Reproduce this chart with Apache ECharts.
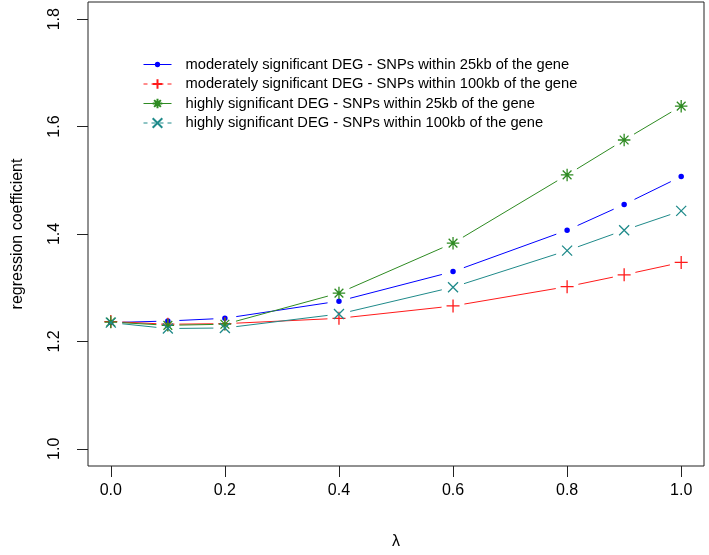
<!DOCTYPE html>
<html>
<head>
<meta charset="utf-8">
<script src="https://cdn.jsdelivr.net/npm/echarts@6/dist/echarts.min.js"></script>
<style>
html,body{margin:0;padding:0;background:#fff;}
#chart{width:709px;height:555px;}
</style>
</head>
<body>
<div id="chart"></div>
<script>
var lambdas = [0, 0.1, 0.2, 0.4, 0.6, 0.8, 0.9, 1.0];
var modSig25kb  = [1.235, 1.238, 1.243, 1.275, 1.330, 1.407, 1.455, 1.507];
var modSig100kb = [1.237, 1.232, 1.233, 1.243, 1.266, 1.302, 1.324, 1.347];
var highSig25kb = [1.236, 1.230, 1.232, 1.290, 1.383, 1.510, 1.575, 1.638];
var highSig100kb= [1.235, 1.224, 1.225, 1.251, 1.301, 1.369, 1.407, 1.443];
var seriesNames = [
  'moderately significant DEG - SNPs within 25kb of the gene',
  'moderately significant DEG - SNPs within 100kb of the gene',
  'highly significant DEG - SNPs within 25kb of the gene',
  'highly significant DEG - SNPs within 100kb of the gene'
];
var xTicks = [0, 0.2, 0.4, 0.6, 0.8, 1.0];
var yTicks = [1.0, 1.2, 1.4, 1.6, 1.8];

var colors = ['#0000ff', '#ff1a1a', '#2e8b22', '#1f8a8a'];
var symbols = [
  'path://M-1,-1L-0.999,-1M1,1L0.999,1M0.55,0A0.55,0.55,0,1,1,-0.55,0A0.55,0.55,0,1,1,0.55,0Z',
  'path://M0,-1L0,1M-1,0L1,0',
  'path://M0,-1L0,1M-1,0L1,0M-0.7,-0.7L0.7,0.7M-0.7,0.7L0.7,-0.7',
  'path://M-1,-1L1,1M-1,1L1,-1'
];
var sizes = [10, 13, 12.5, 10];
var dashed = [false, true, false, true];
var values = [modSig25kb, modSig100kb, highSig25kb, highSig100kb];
var GAP = 11.5;

function pairs(ys){ return lambdas.map(function(x,i){ return [x, ys[i]]; }); }

var series = [];
values.forEach(function(ys, i){
  var pts = pairs(ys);
  // connecting segments with gaps around the points (R type = "b")
  series.push({
    type: 'custom',
    name: 'seg' + i,
    coordinateSystem: 'cartesian2d',
    silent: true,
    animation: false,
    z: 2,
    encode: {x: 0, y: 1},
    data: pts.slice(0, -1),
    renderItem: function(params, api){
      var k = params.dataIndex;
      var a = api.coord(pts[k]), b = api.coord(pts[k + 1]);
      var dx = b[0] - a[0], dy = b[1] - a[1];
      var L = Math.sqrt(dx * dx + dy * dy);
      if (L <= 2 * GAP) return null;
      var ux = dx / L, uy = dy / L;
      return {
        type: 'line',
        shape: {x1: a[0] + ux * GAP, y1: a[1] + uy * GAP, x2: b[0] - ux * GAP, y2: b[1] - uy * GAP},
        style: {stroke: colors[i], lineWidth: 1, fill: null}
      };
    }
  });
  var isStroke = i !== 0;
  series.push({
    name: seriesNames[i],
    type: 'line',
    data: pts,
    symbol: symbols[i],
    symbolSize: sizes[i],
    showSymbol: true,
    animation: false,
    lineStyle: {color: 'rgba(0,0,0,0)', width: 0, opacity: 0},
    itemStyle: isStroke ? {color: 'rgba(0,0,0,0)', borderColor: colors[i], borderWidth: 1.3}
                        : {color: colors[i], borderWidth: 0},
    emphasis: {disabled: true},
    z: 3
  });
});

var chart = echarts.init(document.getElementById('chart'), null, {renderer: 'canvas'});
chart.setOption({
  backgroundColor: '#fff',
  animation: false,
  textStyle: {fontFamily: 'Liberation Sans, Arial, sans-serif'},
  grid: {left: 88, right: 5, top: 2, bottom: 89, show: true, containLabel: false, outerBoundsMode: 'none',
         borderColor: '#222', borderWidth: 1, backgroundColor: 'transparent'},
  legend: {
    orient: 'vertical',
    left: 138,
    top: 52,
    itemWidth: 28,
    itemHeight: 12,
    itemGap: 4.5,
    textStyle: {fontSize: 14.7, lineHeight: 14, color: '#000', padding: [0, 0, 0, 9]},
    data: seriesNames.map(function(n, i){
      return {name: n, lineStyle: {color: colors[i], type: dashed[i] ? [4, 4] : 'solid', width: 1, opacity: 1}};
    })
  },
  xAxis: {
    type: 'value',
    min: -0.04, max: 1.04,
    name: 'λ',
    nameLocation: 'middle',
    nameGap: 68,
    nameTextStyle: {fontSize: 16, color: '#000'},
    axisLine: {show: false, onZero: false},
    axisTick: {show: true, length: 11, customValues: xTicks, lineStyle: {color: '#222'}},
    axisLabel: {customValues: xTicks, fontSize: 16, color: '#000', margin: 17,
      formatter: function(v){ return v.toFixed(1); }},
    splitLine: {show: false}
  },
  yAxis: {
    type: 'value',
    min: 0.968, max: 1.832,
    name: 'regression coefficient',
    nameLocation: 'middle',
    nameGap: 62,
    nameRotate: 90,
    nameTextStyle: {fontSize: 16, color: '#000'},
    axisLine: {show: false, onZero: false},
    axisTick: {show: true, length: 11, customValues: yTicks, lineStyle: {color: '#222'}},
    axisLabel: {customValues: yTicks, fontSize: 16, color: '#000', margin: 25, rotate: 90,
      formatter: function(v){ return v.toFixed(1); }},
    splitLine: {show: false}
  },
  series: series
});
</script>
</body>
</html>
